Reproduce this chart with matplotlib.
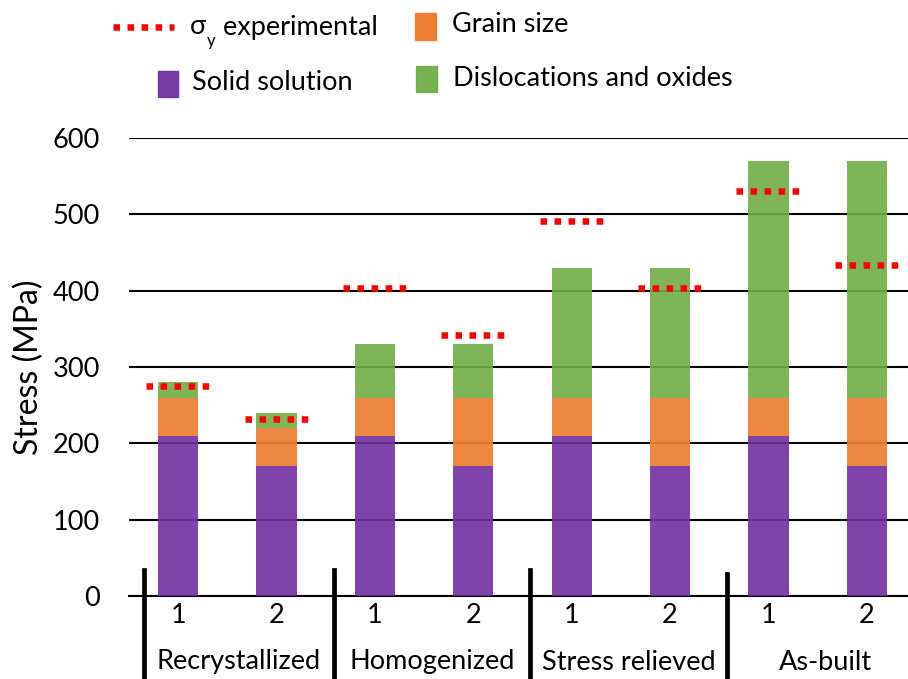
import matplotlib
matplotlib.use("Agg")
import matplotlib.pyplot as plt
from matplotlib.patches import Rectangle
from matplotlib.lines import Line2D
from matplotlib.text import Annotation
import matplotlib.transforms as mtransforms

plt.rcParams['font.family'] = ['Lato', 'DejaVu Sans']

# --- data -------------------------------------------------------------
groups = ["Recrystallized", "Homogenized", "Stress relieved", "As-built"]
sub_labels = ["1", "2", "1", "2", "1", "2", "1", "2"]
solid_solution = [210, 170, 210, 170, 210, 170, 210, 170]
grain_size = [50, 50, 50, 90, 50, 90, 50, 90]
dislocations = [20, 20, 70, 70, 170, 170, 310, 310]
sigma_exp = [275, 232, 404, 342, 491, 404, 530, 434]
y_ticks = [0, 100, 200, 300, 400, 500, 600]

purple = "#7030A0"
orange = "#ED7D31"
green = "#70AD47"
FS = 19.5

W, H = 908, 679
fig = plt.figure(figsize=(W / 100, H / 100), dpi=100)
ax = fig.add_axes([129 / W, (H - 596) / H, 787 / W, 458 / H])

x = list(range(len(solid_solution)))
bw = 0.41
ax.bar(x, solid_solution, bw, color=purple, alpha=0.9, zorder=3, linewidth=0)
bottom2 = [a for a in solid_solution]
ax.bar(x, grain_size, bw, bottom=bottom2, color=orange, alpha=0.92, zorder=3, linewidth=0)
bottom3 = [a + b for a, b in zip(solid_solution, grain_size)]
ax.bar(x, dislocations, bw, bottom=bottom3, color=green, alpha=0.9, zorder=3, linewidth=0)

# experimental yield stress as dotted markers over each bar
for xi, s in zip(x, sigma_exp):
    ax.plot([xi - 0.325, xi + 0.325], [s, s], color="#FF0000", lw=4.7,
            dashes=(1, 1.15), solid_capstyle="butt", dash_capstyle="butt", zorder=5)

ax.set_xlim(-0.5, 7.5)
ax.set_ylim(0, 600)
ax.set_yticks(y_ticks)
ax.set_yticklabels([str(v) for v in y_ticks], fontsize=FS)
ax.set_xticks(x)
ax.set_xticklabels(sub_labels, fontsize=FS)
ax.tick_params(axis="y", length=0, pad=21)
ax.tick_params(axis="x", length=0, pad=5)
ax.yaxis.grid(True, color="black", lw=1.5, zorder=1)
ax.set_axisbelow(True)
for sp in ["top", "right", "left"]:
    ax.spines[sp].set_visible(False)
ax.spines["bottom"].set_linewidth(1.5)
ax.spines["bottom"].set_zorder(2)
ax.set_ylabel("Stress (MPa)", fontsize=23, labelpad=6)

# group separators and group labels below the axis
trans = mtransforms.blended_transform_factory(ax.transData, fig.transFigure)
seps = [-0.35, 1.58, 3.58, 5.58]
tops = [570, 570, 570, 574]
for sx, t in zip(seps, tops):
    fig.add_artist(Line2D([sx, sx], [0, (H - t) / H], transform=trans,
                          color="black", lw=3.4, clip_on=False))
edges = seps + [7.58]
for i, g in enumerate(groups):
    cx = (edges[i] + edges[i + 1]) / 2
    fig.text(cx, (H - 662) / H, g, transform=trans, ha="center", va="center",
             fontsize=FS)

# legend
fig.add_artist(Line2D([113 / W, 174 / W], [(H - 27) / H] * 2, color="#FF0000",
                      lw=4.7, dashes=(1, 1.15), dash_capstyle="butt"))
t1 = fig.text(190 / W, (H - 27) / H, "σ", fontsize=FS, va="center", ha="left")
fig.add_artist(Annotation("y", xy=(1, 0), xycoords=t1, xytext=(0.5, -4.5),
                          textcoords="offset points", fontsize=12,
                          va="baseline", ha="left"))
fig.add_artist(Annotation(" experimental", xy=(1, 0), xycoords=t1, xytext=(7, 0),
                          textcoords="offset points", fontsize=FS,
                          va="bottom", ha="left"))

fig.add_artist(Rectangle((415 / W, (H - 40) / H), 21 / W, 27 / H, color=orange,
                         transform=fig.transFigure))
fig.text(452 / W, (H - 25) / H, "Grain size", fontsize=FS, va="center", ha="left")
fig.add_artist(Rectangle((158 / W, (H - 97) / H), 20 / W, 26 / H, color=purple,
                         alpha=0.95, transform=fig.transFigure))
fig.text(192 / W, (H - 82) / H, "Solid solution", fontsize=FS, va="center", ha="left")
fig.add_artist(Rectangle((416 / W, (H - 92) / H), 21 / W, 26 / H, color=green,
                         alpha=0.95, transform=fig.transFigure))
fig.text(453 / W, (H - 78) / H, "Dislocations and oxides", fontsize=FS,
         va="center", ha="left")

fig.savefig("out.png", dpi=100)
